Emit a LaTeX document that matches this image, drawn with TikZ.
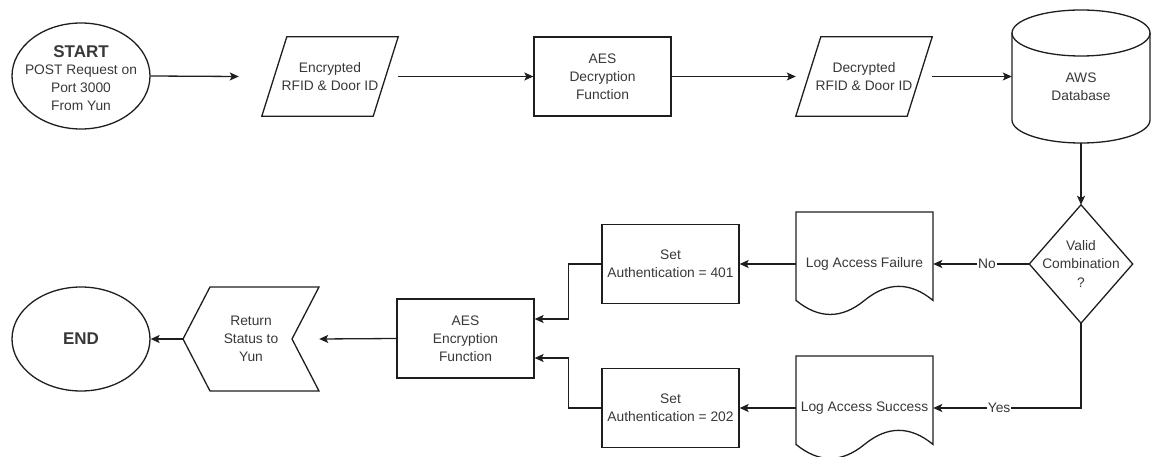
\documentclass[tikz,border=0pt]{standalone}
\usepackage{fontspec}
\setmainfont{Liberation Sans}
\usetikzlibrary{shapes.geometric,arrows.meta,calc}
\definecolor{ln}{HTML}{1E1E1E}
\definecolor{tx}{HTML}{383838}
\newcommand{\bigtxtfont}{\fontsize{17}{20}\selectfont\bfseries}
\begin{document}
\begin{tikzpicture}[x=1pt,y=-1pt,
  base/.style={font=\fontsize{13.8}{18}\selectfont, text=tx, align=center, inner sep=0pt},
  shp/.style={draw=ln, line width=1.3pt, line join=miter},
  procbox/.style={base, shp, minimum width=137pt, minimum height=79pt},
  ghost/.style={base},
  arr/.style={draw=ln, line width=1.3pt, -{Stealth[length=9pt,width=8pt,inset=2pt]}},
  edgelbl/.style={base, fill=white, inner sep=1pt}
]
\useasboundingbox (0,0) rectangle (1151,457);

% START
\node[ellipse, shp, minimum width=138pt, minimum height=106pt, inner sep=0pt] (start) at (81,76) {};
\node[base] (startlbl) at (81,78) {{\bigtxtfont START}\\[-1pt]POST Request on\\Port 3000\\From Yun};

% Encrypted parallelogram
\node[ghost, minimum width=136pt, minimum height=79pt] (enc) at (330,76.5) {Encrypted\\RFID \& Door ID};
\draw[shp] (enc.south west) -- ($(enc.north west)+(25,0)$) -- (enc.north east) -- ($(enc.south east)+(-25,0)$) -- cycle;

% AES Decryption
\node[procbox] (dec) at (602.5,76.5) {AES\\Decryption\\Function};

% Decrypted parallelogram
\node[ghost, minimum width=136pt, minimum height=79pt] (decr) at (864,76.5) {Decrypted\\RFID \& Door ID};
\draw[shp] (decr.south west) -- ($(decr.north west)+(25,0)$) -- (decr.north east) -- ($(decr.south east)+(-25,0)$) -- cycle;

% AWS cylinder
\node[ghost, minimum width=138pt, minimum height=133pt] (aws) at (1081,76.5) {};
\node[base] (awslbl) at (1081,87) {AWS\\Database};
\draw[shp] (1081,33) ellipse [x radius=69pt, y radius=23pt];
\draw[shp] (1012,33) -- (1012,120) arc[start angle=180, end angle=360, x radius=69pt, y radius=23pt] -- (1150,33);

% Decision diamond
\node[ghost, minimum width=103pt, minimum height=118pt] (valid) at (1081,264) {Valid\\Combination\\?};
\draw[shp] (valid.north) -- (valid.east) -- (valid.south) -- (valid.west) -- cycle;

% Log Access Failure (document)
\node[ghost, minimum width=137pt, minimum height=104pt] (fail) at (864.5,264) {Log Access Failure};
\draw[shp] (796,212) -- (933,212) -- (933,300.4)
  .. controls (910.17,281.67) and (887.33,281.67) .. (864.5,300.4)
  .. controls (841.67,319.13) and (818.83,319.13) .. (796,300.4) -- cycle;

% Log Access Success (document)
\node[ghost, minimum width=137pt, minimum height=104pt] (succ) at (864.5,408) {Log Access Success};
\draw[shp] (796,356) -- (933,356) -- (933,444.4)
  .. controls (910.17,425.67) and (887.33,425.67) .. (864.5,444.4)
  .. controls (841.67,463.13) and (818.83,463.13) .. (796,444.4) -- cycle;

% Set Authentication boxes
\node[procbox] (s401) at (670.5,264) {Set\\Authentication = 401};
\node[procbox] (s202) at (670.5,408) {Set\\Authentication = 202};

% AES Encryption
\node[procbox] (aesenc) at (465.5,338.5) {AES\\Encryption\\Function};

% Return Status chevron
\node[ghost, minimum width=136pt, minimum height=104pt] (ret) at (251,339) {Return\\Status to\\Yun};
\draw[shp] (183,339) -- (210,287) -- (319,287) -- (292,339) -- (319,391) -- (210,391) -- cycle;

% END
\node[ellipse, shp, minimum width=138pt, minimum height=104pt, inner sep=0pt] (end) at (81,339) {};
\node[base] (endlbl) at (81,339) {{\bigtxtfont END}};

% Connectors
\draw[arr] (start.east) -- ([xshift=-23pt]enc.west);
\draw[arr] (enc.east) -- (dec.west);
\draw[arr] (dec.east) -- (decr.west);
\draw[arr] (decr.east) -- (aws.west);
\draw[arr] (aws.south) -- (valid.north);
\draw[arr] (valid.west) -- node[edgelbl, pos=0.44] (nolbl) {No} (fail.east);
\draw[arr] (valid.south) |- node[edgelbl, pos=0.777] (yeslbl) {Yes} (succ.east);
\draw[arr] (fail.west) -- (s401.east);
\draw[arr] (succ.west) -- (s202.east);
\draw[arr] (s401.west) -- ++(-33,0) |- ([yshift=19.5pt]aesenc.east);
\draw[arr] (s202.west) -- ++(-33,0) |- ([yshift=-19.5pt]aesenc.east);
\draw[arr] (aesenc.west) -- (ret.east);
\draw[arr] (ret.west) -- (end.east);
\end{tikzpicture}
\end{document}
